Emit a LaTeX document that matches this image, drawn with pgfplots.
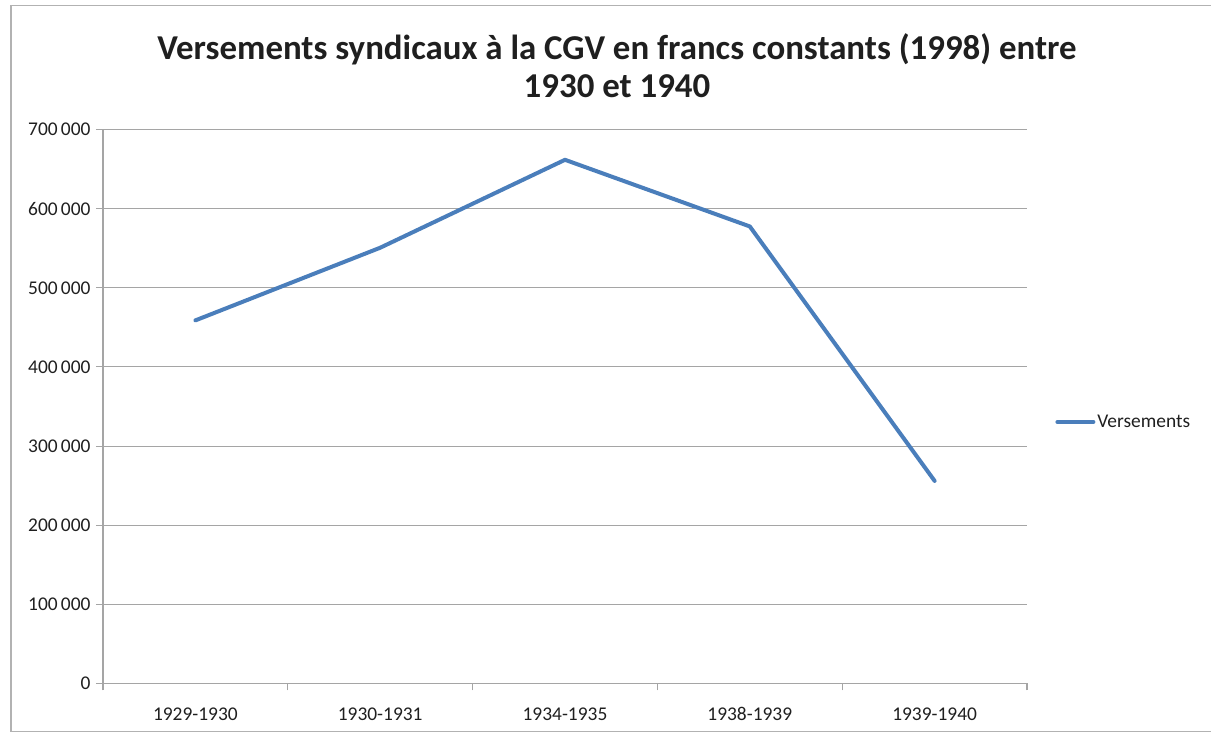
\documentclass[border=0pt]{standalone}
\usepackage{pgfplots}
\pgfplotsset{compat=1.18}
\usepackage{fontspec}
\setmainfont{Carlito}
\definecolor{serie}{RGB}{74,126,187}
\definecolor{gridc}{RGB}{165,165,165}
\definecolor{framec}{RGB}{178,178,178}
\begin{document}
\begin{tikzpicture}[x=1bp,y=1bp]
\useasboundingbox (0,0) rectangle (1211,733);
\draw[framec, line width=1.3bp] (11,1.3) rectangle (1225,727.3);
\node[align=center, font=\bfseries\fontsize{35}{38}\selectfont, text=black!88] at (617,667)
  {Versements syndicaux à la CGV en francs constants (1998) entre\\1930 et 1940};
\begin{axis}[
  at={(103bp,49.5bp)}, anchor=south west,
  scale only axis, width=924bp, height=554bp,
  xmin=-0.5, xmax=4.5, ymin=0, ymax=700000,
  axis x line*=bottom, axis y line*=left,
  axis line style={gridc, line width=1.1bp},
  xtick={-0.5,0.5,1.5,2.5,3.5,4.5}, xticklabels={},
  extra x ticks={0,1,2,3,4},
  extra x tick labels={1929-1930,1930-1931,1934-1935,1938-1939,1939-1940},
  extra x tick style={major tick length=0pt, xticklabel style={yshift=-19bp, text height=14bp, text depth=4bp}},
  ytick={0,100000,200000,300000,400000,500000,600000,700000},
  yticklabels={0,100\,000,200\,000,300\,000,400\,000,500\,000,600\,000,700\,000},
  tick align=outside, major tick length=7bp,
  tick style={gridc, line width=1.1bp},
  ymajorgrids, grid style={gridc, line width=1.1bp},
  ticklabel style={font=\fontsize{19.5}{23}\selectfont, text=black!88},
  yticklabel style={xshift=-2bp},
  scaled y ticks=false,
  legend style={at={(1.0305,0.472)}, anchor=west, draw=none, fill=none, inner sep=0pt,
    font=\fontsize{19.5}{23}\selectfont, text=black!88},
  legend image code/.code={\draw[#1] (0bp,0bp) -- (36bp,0bp);},
  legend cell align=left,
]
\addplot[serie, line width=4bp, line cap=round, line join=round] coordinates {
  (0,458800) (1,550600) (2,661700) (3,577500) (4,256000)
};
\addlegendentry{Versements}
\end{axis}
\end{tikzpicture}
\end{document}
